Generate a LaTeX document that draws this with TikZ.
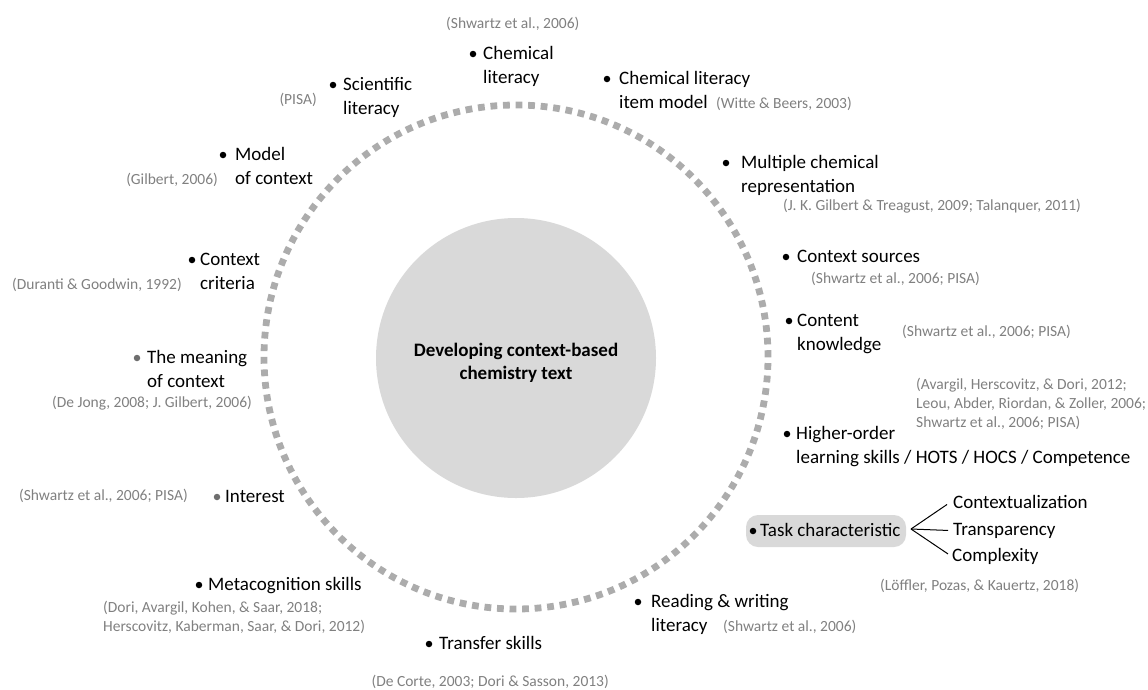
\documentclass[tikz,border=0pt]{standalone}
\usepackage{fontspec}
\setmainfont{Carlito}
\definecolor{citegray}{RGB}{128,128,128}
\definecolor{bulgray}{RGB}{110,110,110}
\definecolor{dotgray}{RGB}{172,172,172}
\definecolor{fillgray}{RGB}{217,217,217}
\begin{document}
\begin{tikzpicture}[x=1pt,y=-1pt,
  lab/.style={anchor=base west, inner sep=0pt, align=left, font=\fontsize{19}{24}\selectfont, text=black},
  cite/.style={anchor=base west, inner sep=0pt, align=left, font=\fontsize{15.5}{19}\selectfont, text=citegray},
  bul/.style={circle, fill=black, inner sep=0pt, minimum size=6.5pt},
  gbul/.style={bul, fill=bulgray},
  ring/.style={draw=dotgray, line width=6.8pt, dash pattern=on 6.8pt off 5.766pt},
  hub/.style={circle, fill=fillgray, inner sep=0pt, minimum size=280pt},
  hubtext/.style={anchor=base, inner sep=0pt, align=center, font=\fontsize{19}{22.5}\selectfont\bfseries},
  taskbox/.style={fill=fillgray, rounded corners=12pt, minimum width=160pt, minimum height=32pt, inner sep=0pt},
  branch/.style={draw=black, line width=1pt}
]
\useasboundingbox (0,0) rectangle (1148,689);

% central disc and dotted ring
\node[hub] (hub) at (516,358) {};
\coordinate (ringc) at (516,357);
\draw[ring] (ringc) circle[radius=252pt];
\node[hubtext] (title) at (516,379) {Developing context-based\\chemistry text};

% top
\node[cite] (c1) at (446,28.5) {(Shwartz et al., 2006)};
\node[bul] (b1) at (473,54) {};
\node[lab] (l1) at (483,83) {Chemical\\literacy};

\node[bul] (b2) at (333,85) {};
\node[lab] (l2) at (343,114) {Scientific\\literacy};
\node[cite, anchor=base east] (c2) at (317,104.5) {(PISA)};

\node[bul] (b3) at (607,79) {};
\node[lab] (l3) at (619,108) {Chemical literacy\\item model};
\node[cite] (c3) at (716,108) {(Witte \& Beers, 2003)};

% upper left
\node[bul] (b4) at (223,155) {};
\node[lab] (l4) at (235,184) {Model\\of context};
\node[cite, anchor=base east] (c4) at (218,184) {(Gilbert, 2006)};

\node[bul] (b5) at (192,260) {};
\node[lab] (l5) at (200,289) {Context\\criteria};
\node[cite, anchor=base east] (c5) at (182,289) {(Duranti \& Goodwin, 1992)};

\node[gbul] (b6) at (137,358) {};
\node[lab] (l6) at (147,387) {The meaning\\of context};
\node[cite, anchor=base east] (c6) at (252,407.5) {(De Jong, 2008; J. Gilbert, 2006)};

\node[gbul] (b7) at (217,497) {};
\node[lab] (l7) at (225,502) {Interest};
\node[cite, anchor=base east] (c7) at (188,500.5) {(Shwartz et al., 2006; PISA)};

\node[bul] (b8) at (199,585) {};
\node[lab] (l8) at (208,590) {Metacognition skills};
\node[cite] (c8) at (103,631.5) {(Dori, Avargil, Kohen, \& Saar, 2018;\\Herscovitz, Kaberman, Saar, \& Dori, 2012)};

% bottom
\node[bul] (b9) at (429,644) {};
\node[lab] (l9) at (439,649) {Transfer skills};
\node[cite, anchor=base east] (c9) at (609,686.5) {(De Corte, 2003; Dori \& Sasson, 2013)};

\node[bul] (b10) at (638,602) {};
\node[lab] (l10) at (651,631) {Reading \& writing\\literacy};
\node[cite] (c10) at (723,631.5) {(Shwartz et al., 2006)};

% right
\node[bul] (b11) at (726,163) {};
\node[lab] (l11) at (741,192) {Multiple chemical\\representation};
\node[cite] (c11) at (783,210.5) {(J. K. Gilbert \& Treagust, 2009; Talanquer, 2011)};

\node[bul] (b12) at (786,257) {};
\node[lab] (l12) at (797,262) {Context sources};
\node[cite] (c12) at (811,283.5) {(Shwartz et al., 2006; PISA)};

\node[bul] (b13) at (789,321) {};
\node[lab] (l13) at (797,350) {Content\\knowledge};
\node[cite] (c13) at (902,336.5) {(Shwartz et al., 2006; PISA)};

\node[cite] (c14) at (916,427.5) {(Avargil, Herscovitz, \& Dori, 2012;\\Leou, Abder, Riordan, \& Zoller, 2006;\\Shwartz et al., 2006; PISA)};
\node[bul] (b14) at (787,434) {};
\node[lab] (l14) at (796,463) {Higher-order\\learning skills / HOTS / HOCS / Competence};

% task characteristic
\node[taskbox] (task) at (826,531) {};
\node[bul] (b15) at (753,531) {};
\node[lab] (l15) at (760,536) {Task characteristic};
\node[lab] (t1) at (953,508) {Contextualization};
\node[lab] (t2) at (953,535) {Transparency};
\node[lab] (t3) at (952,561) {Complexity};
\coordinate (apex) at (911,529);
\draw[branch] (apex) -- ([xshift=-6pt,yshift=-3pt]t1.west);
\draw[branch] (apex) -- ([xshift=-5pt]t2.west);
\draw[branch] (apex) -- ([xshift=-4pt,yshift=2pt]t3.west);
\node[cite] (c15) at (880,590.5) {(Löffler, Pozas, \& Kauertz, 2018)};
\end{tikzpicture}
\end{document}
